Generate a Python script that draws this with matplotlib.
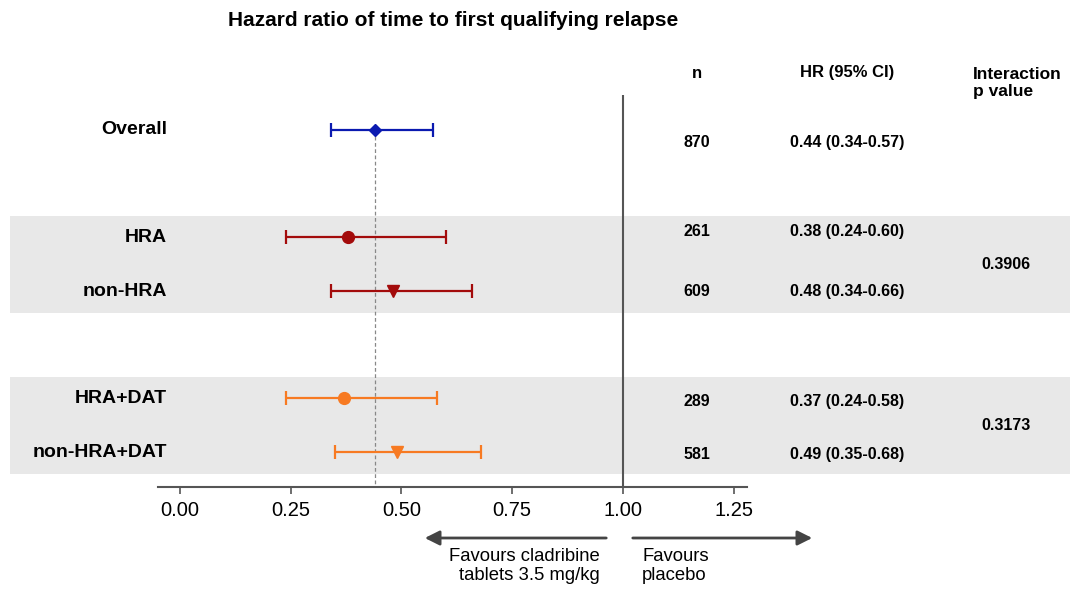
import numpy as np
import matplotlib
matplotlib.use("Agg")
import matplotlib.pyplot as plt
import matplotlib.transforms as mtrans

# data
labels = ["Overall", "HRA", "non-HRA", "HRA+DAT", "non-HRA+DAT"]
hr = [0.44, 0.38, 0.48, 0.37, 0.49]
ci_low = [0.34, 0.24, 0.34, 0.24, 0.35]
ci_high = [0.57, 0.60, 0.66, 0.58, 0.68]
n_pat = [870, 261, 609, 289, 581]
hr_text = ["0.44 (0.34-0.57)", "0.38 (0.24-0.60)", "0.48 (0.34-0.66)",
           "0.37 (0.24-0.58)", "0.49 (0.35-0.68)"]
p_values = ["0.3906", "0.3173"]
xticks = [0.0, 0.25, 0.5, 0.75, 1.0, 1.25]

# styles
rows = [0, 2, 3, 5, 6]
colors = ["#0b1ab0", "#a30b0b", "#a30b0b", "#f77a22", "#f77a22"]
markers = ["D", "o", "v", "o", "v"]
msizes = [6.5, 8.5, 8, 8.5, 8]
text_dy = [0.24, -0.1, 0.0, 0.05, 0.04]

font = ["Liberation Sans", "DejaVu Sans"]

fig = plt.figure(figsize=(10.7, 5.89), dpi=100)
ax = fig.add_axes([158 / 1070, 1 - 487 / 589, (747 - 158) / 1070, (487 - 95) / 589])
ax.patch.set_visible(False)
ax.set_xlim(-0.0497, 1.28)
ax.set_ylim(6.65, -0.65)

fx_dy = mtrans.blended_transform_factory(fig.transFigure, ax.transData)

# grey bands behind the subgroups
for r0, r1 in [(rows[1], rows[2]), (rows[3], rows[4])]:
    band = plt.Rectangle((10 / 1070, r0 - 0.4), 1 - 10 / 1070, (r1 - r0) + 0.81,
                         transform=fx_dy, facecolor="#e8e8e8", edgecolor="none",
                         clip_on=False, zorder=0)
    ax.add_patch(band)

# reference lines
ax.axvline(1.0, color="#555555", lw=1.5, zorder=1)
ax.plot([hr[0], hr[0]], [rows[0], 6.65], color="#888888", lw=0.9,
        ls=(0, (3, 2)), zorder=1)

for i in range(len(labels)):
    ax.errorbar(hr[i], rows[i], xerr=[[hr[i] - ci_low[i]], [ci_high[i] - hr[i]]],
                fmt=markers[i], color=colors[i], ms=msizes[i], capsize=5,
                elinewidth=1.6, capthick=1.6, zorder=3)
    ax.text(167 / 1070, rows[i], labels[i], transform=fx_dy, ha="right", va="center",
            fontsize=14, fontweight="bold", family=font)
    ax.text(697 / 1070, rows[i] + text_dy[i], str(n_pat[i]), transform=fx_dy,
            ha="center", va="center", fontsize=11.5, fontweight="bold", family=font)
    ax.text(847 / 1070, rows[i] + text_dy[i], hr_text[i], transform=fx_dy,
            ha="center", va="center", fontsize=11.5, fontweight="bold", family=font)

ax.text(1006 / 1070, (rows[1] + rows[2]) / 2, p_values[0], transform=fx_dy,
        ha="center", va="center", fontsize=11.5, fontweight="bold", family=font)
ax.text(1006 / 1070, (rows[3] + rows[4]) / 2, p_values[1], transform=fx_dy,
        ha="center", va="center", fontsize=11.5, fontweight="bold", family=font)

# axis styling
for s in ["top", "right", "left"]:
    ax.spines[s].set_visible(False)
ax.spines["bottom"].set_color("#555555")
ax.spines["bottom"].set_linewidth(1.5)
ax.set_yticks([])
ax.set_xticks(xticks)
ax.set_xticklabels([f"{t:.2f}" for t in xticks], family=font, fontsize=14.5)
ax.tick_params(axis="x", color="#555555", width=1.2, length=5, pad=5)

# headers and title
fig.text(453 / 1070, 1 - 20 / 589, "Hazard ratio of time to first qualifying relapse",
         ha="center", va="center", fontsize=15, fontweight="bold", family=font)
fig.text(697 / 1070, 1 - 73 / 589, "n", ha="center", va="center",
         fontsize=12, fontweight="bold", family=font)
fig.text(847 / 1070, 1 - 73 / 589, "HR (95% CI)", ha="center", va="center",
         fontsize=12, fontweight="bold", family=font)
fig.text(973 / 1070, 1 - 83 / 589, "Interaction\np value", ha="left", va="center",
         fontsize=12.5, fontweight="bold", family=font, linespacing=1.2)

# favours arrows
ay = 1 - 538 / 589
fig.add_artist(matplotlib.patches.FancyArrowPatch(
    (609 / 1070, ay), (422 / 1070, ay), transform=fig.transFigure,
    arrowstyle="-|>", mutation_scale=22, color="#444444", lw=2))
fig.add_artist(matplotlib.patches.FancyArrowPatch(
    (630 / 1070, ay), (815 / 1070, ay), transform=fig.transFigure,
    arrowstyle="-|>", mutation_scale=22, color="#444444", lw=2))
fig.text(600 / 1070, 1 - 566 / 589, "Favours cladribine\ntablets 3.5 mg/kg",
         ha="right", va="center", fontsize=13.3, family=font, linespacing=1.15)
fig.text(642 / 1070, 1 - 566 / 589, "Favours\nplacebo",
         ha="left", va="center", fontsize=13.3, family=font, linespacing=1.15)

fig.savefig("out.png", dpi=100)
